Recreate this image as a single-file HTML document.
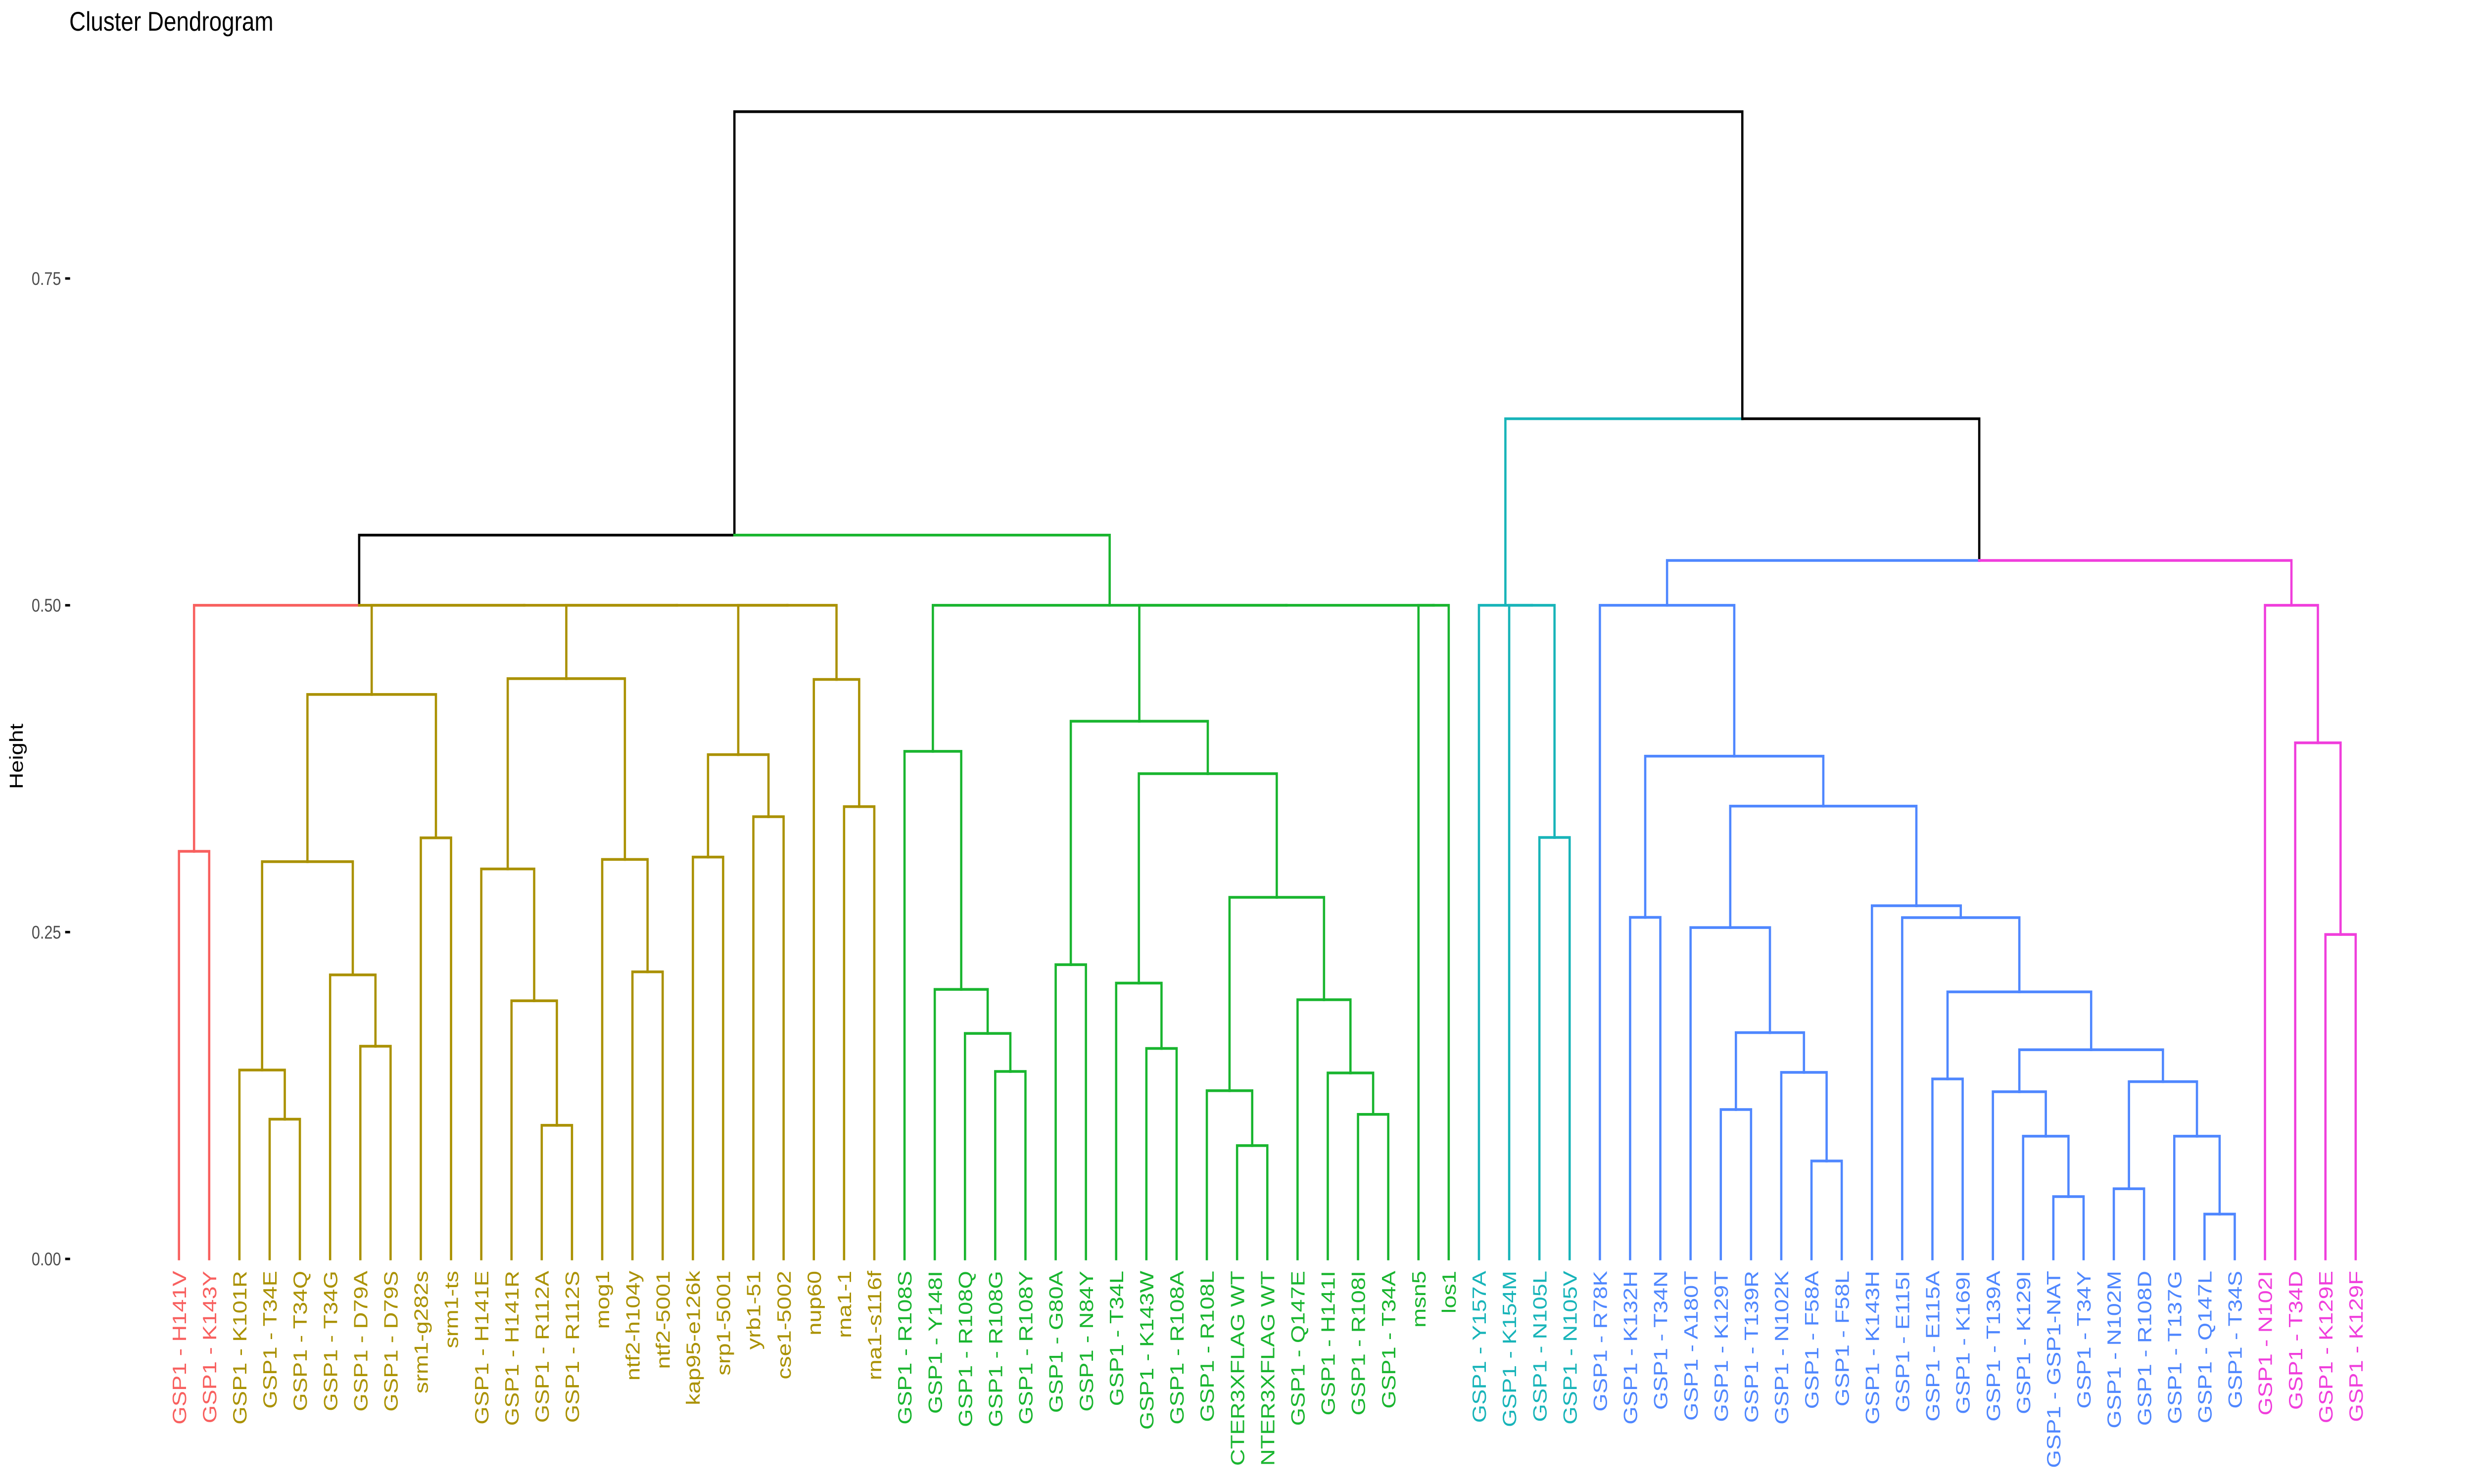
<!DOCTYPE html>
<html lang="en">
<head>
<meta charset="utf-8">
<title>Cluster Dendrogram</title>
<style>
html,body{margin:0;padding:0;background:#fff;width:100%;height:100%;overflow:hidden}
svg{display:block;width:100vw;height:100vh}
text{font-family:"Liberation Sans",Arial,sans-serif}
</style>
</head>
<body>
<svg id="chart" xmlns="http://www.w3.org/2000/svg" viewBox="0 0 6000 3000" preserveAspectRatio="none">
  <defs><clipPath id="plot-clip"><rect x="0" y="0" width="6000" height="2966"/></clipPath></defs>
  <rect x="0" y="0" width="6000" height="3000" fill="#ffffff"/>
  <text x="168" y="62" font-size="55" fill="#000000">Cluster Dendrogram</text>
  <text transform="translate(55,1529) rotate(-90)" text-anchor="middle" font-size="45.8" fill="#000000">Height</text>
  <g id="y-axis"></g>
  <g id="branches"></g>
  <g id="leaf-labels" clip-path="url(#plot-clip)"></g>
</svg>
<script>
const leafLabels = [
  "GSP1 - H141V","GSP1 - K143Y","GSP1 - K101R","GSP1 - T34E","GSP1 - T34Q","GSP1 - T34G","GSP1 - D79A","GSP1 - D79S",
  "srm1-g282s","srm1-ts","GSP1 - H141E","GSP1 - H141R","GSP1 - R112A","GSP1 - R112S","mog1","ntf2-h104y","ntf2-5001",
  "kap95-e126k","srp1-5001","yrb1-51","cse1-5002","nup60","rna1-1","rna1-s116f","GSP1 - R108S","GSP1 - Y148I",
  "GSP1 - R108Q","GSP1 - R108G","GSP1 - R108Y","GSP1 - G80A","GSP1 - N84Y","GSP1 - T34L","GSP1 - K143W","GSP1 - R108A",
  "GSP1 - R108L","CTER3XFLAG WT","NTER3XFLAG WT","GSP1 - Q147E","GSP1 - H141I","GSP1 - R108I","GSP1 - T34A","msn5","los1",
  "GSP1 - Y157A","GSP1 - K154M","GSP1 - N105L","GSP1 - N105V","GSP1 - R78K","GSP1 - K132H","GSP1 - T34N","GSP1 - A180T",
  "GSP1 - K129T","GSP1 - T139R","GSP1 - N102K","GSP1 - F58A","GSP1 - F58L","GSP1 - K143H","GSP1 - E115I","GSP1 - E115A",
  "GSP1 - K169I","GSP1 - T139A","GSP1 - K129I","GSP1 - GSP1-NAT","GSP1 - T34Y","GSP1 - N102M","GSP1 - R108D","GSP1 - T137G",
  "GSP1 - Q147L","GSP1 - T34S","GSP1 - N102I","GSP1 - T34D","GSP1 - K129E","GSP1 - K129F"
];
const leafClusters = [
  0,0,
  1,1,1,1,1,1,1,1,1,1,1,1,1,1,1,1,1,1,1,1,1,1,
  2,2,2,2,2,2,2,2,2,2,2,2,2,2,2,2,2,2,2,
  3,3,3,3,
  4,4,4,4,4,4,4,4,4,4,4,4,4,4,4,4,4,4,4,4,4,4,
  5,5,5,5
];
const clusterColors = ["#F8605F","#AA9100","#19B52F","#18B4B9","#4F87FF","#F03EDC"];
// Tree: a node is [height, left, right]; a plain integer is a leaf index.
const dendrogramTree =
[0.8776,
  [0.5537,
    [0.5,
      [0.3118,0,1],
      [0.5,
        [0.4318,[0.3039,[0.1445,2,[0.1069,3,4]],[0.2173,5,[0.1627,6,7]]],[0.3221,8,9]],
        [0.5,
          [0.4439,[0.2983,10,[0.1975,11,[0.1022,12,13]]],[0.3056,14,[0.2196,15,16]]],
          [0.5,
            [0.3858,[0.3074,17,18],[0.3383,19,20]],
            [0.4433,21,[0.3460,22,23]]]]]],
    [0.5,
      [0.3883,24,[0.2062,25,[0.1725,26,[0.1434,27,28]]]],
      [0.5,
        [0.4113,[0.2251,29,30],[0.3712,[0.2110,31,[0.1610,32,33]],[0.2766,[0.1287,34,[0.0867,35,36]],[0.1983,37,[0.1423,38,[0.1106,39,40]]]]]],
        [0.5,41,42]]]],
  [0.6427,
    [0.5,43,[0.5,44,[0.3224,45,46]]],
    [0.5343,
      [0.5,47,[0.3846,[0.2613,48,49],[0.3464,[0.2535,50,[0.1731,[0.1143,51,52],[0.1427,53,[0.0749,54,55]]]],[0.2702,56,[0.2611,57,[0.2043,[0.1377,58,59],[0.1600,[0.1279,60,[0.0939,61,[0.0477,62,63]]],[0.1356,[0.0537,64,65],[0.0939,66,[0.0343,67,68]]]]]]]]]],
      [0.5,69,[0.3948,70,[0.2482,71,72]]]]]];
const tickValues = [0, 0.25, 0.5, 0.75];
const tickLabels = ["0.00","0.25","0.50","0.75"];

const SVG_NS = "http://www.w3.org/2000/svg";
function xScale(leafIndex){ return 434 + 73.32 * leafIndex; }
function yScale(height){ return 2545 - 2642.7 * height; }

function layout(node){
  if (typeof node === "number") {
    return {x: xScale(node), h: 0, cluster: leafClusters[node]};
  }
  const left = layout(node[1]);
  const right = layout(node[2]);
  const cluster = left.cluster === right.cluster ? left.cluster : -1;
  return {x: (left.x + right.x) / 2, h: node[0], cluster: cluster, left: left, right: right};
}

const branchGroup = document.getElementById("branches");
function drawEdge(parent, child){
  const path = document.createElementNS(SVG_NS, "path");
  
  
  path.setAttribute("d", "M" + parent.x + " " + yScale(parent.h) + "H" + child.x + "V" + yScale(child.h));
  path.setAttribute("fill", "none");
  path.setAttribute("stroke", child.cluster < 0 ? "#000000" : clusterColors[child.cluster]);
  path.setAttribute("stroke-width", "5.5");
  path.setAttribute("stroke-linecap", "square");
  path.setAttribute("stroke-linejoin", "miter");
  branchGroup.appendChild(path);
}
function drawNode(node){
  if (!node.left) return;
  drawEdge(node, node.left);
  drawEdge(node, node.right);
  drawNode(node.left);
  drawNode(node.right);
}
drawNode(layout(dendrogramTree));

const labelGroup = document.getElementById("leaf-labels");
leafLabels.forEach(function(label, i){
  const text = document.createElementNS(SVG_NS, "text");
  
  
  text.setAttribute("transform", "translate(" + (xScale(i) + 17) + ",2569) rotate(-90)");
  text.setAttribute("text-anchor", "end");
  text.setAttribute("font-size", "47");
  text.setAttribute("fill", clusterColors[leafClusters[i]]);
  text.textContent = label;
  labelGroup.appendChild(text);
});

const axisGroup = document.getElementById("y-axis");
tickValues.forEach(function(value, i){
  const y = yScale(value);
  const tick = document.createElementNS(SVG_NS, "line");
  
  
  tick.setAttribute("x1", "158");
  tick.setAttribute("x2", "170");
  tick.setAttribute("y1", y);
  tick.setAttribute("y2", y);
  tick.setAttribute("stroke", "#000000");
  tick.setAttribute("stroke-width", "5");
  axisGroup.appendChild(tick);
  const text = document.createElementNS(SVG_NS, "text");
  
  
  text.setAttribute("x", "148");
  text.setAttribute("y", y + 13);
  text.setAttribute("text-anchor", "end");
  text.setAttribute("font-size", "36.7");
  text.setAttribute("fill", "#4D4D4D");
  text.textContent = tickLabels[i];
  axisGroup.appendChild(text);
});
</script>
</body>
</html>
